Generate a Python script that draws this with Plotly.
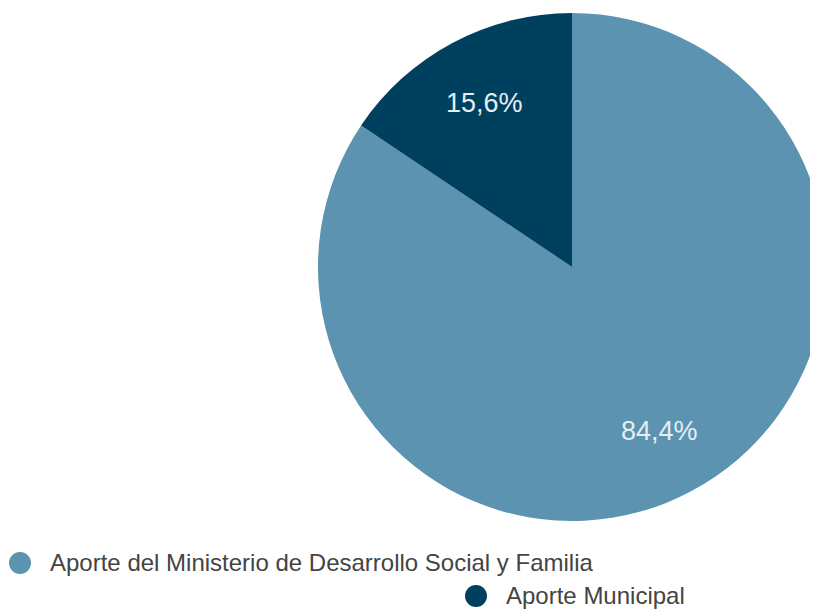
import math
import plotly.graph_objects as go

labels = ["Aporte del Ministerio de Desarrollo Social y Familia", "Aporte Municipal"]
values = [84.4, 15.6]
text_labels = ["84,4%", "15,6%"]
colors = ["#5b93b1", "#00405f"]

W, H = 818, 610
FONT = "Liberation Sans, Arial"

# pie area in figure pixels (left, top, right, bottom); the page body adds an 8px offset
pl, pt, pr, pb = 310, 5, 818, 513
dom_x = [pl / W, pr / W]
dom_y = [(H - pb) / H, (H - pt) / H]

fig = go.Figure()
fig.add_trace(go.Pie(
    labels=labels,
    values=values,
    textinfo="none",
    marker=dict(colors=colors, line=dict(width=0)),
    sort=False,
    direction="clockwise",
    rotation=0,
    showlegend=False,
    hoverinfo="label+percent",
    domain=dict(x=dom_x, y=dom_y),
))

# slice labels placed along each slice's bisector, at ~0.73 of the radius
cx, cy = (pl + pr) / 2, (pt + pb) / 2
r = min(pr - pl, pb - pt) / 2
total = sum(values)
start = 0.0
for v, t in zip(values, text_labels):
    mid = (start + v / 2) / total * 2 * math.pi
    start += v
    x = cx + 0.73 * r * math.sin(mid)
    y = cy - 0.73 * r * math.cos(mid)
    fig.add_annotation(x=x / W, y=1 - y / H, xref="paper", yref="paper",
                       text=t, showarrow=False, xanchor="center", yanchor="middle",
                       font=dict(family=FONT, size=27, color="#e4eef3"))

# legend drawn by hand: second entry sits on its own row, offset to the right
legend_pos = [(12, 554), (468, 587)]
for (px, py), lab, col in zip(legend_pos, labels, colors):
    fig.add_shape(type="circle", xref="paper", yref="paper",
                  xsizemode="pixel", ysizemode="pixel",
                  xanchor=px / W, yanchor=1 - (py + 1) / H,
                  x0=-11, x1=11, y0=-11, y1=11,
                  fillcolor=col, line=dict(width=0))
    fig.add_annotation(x=(px + 28) / W, y=1 - py / H, xref="paper", yref="paper",
                       text=lab, showarrow=False, xanchor="left", yanchor="middle",
                       font=dict(family=FONT, size=24, color="#444444"))

fig.update_layout(
    width=W, height=H,
    margin=dict(l=0, r=0, t=0, b=0),
    paper_bgcolor="white",
    plot_bgcolor="white",
)

fig.write_html("out.html")
